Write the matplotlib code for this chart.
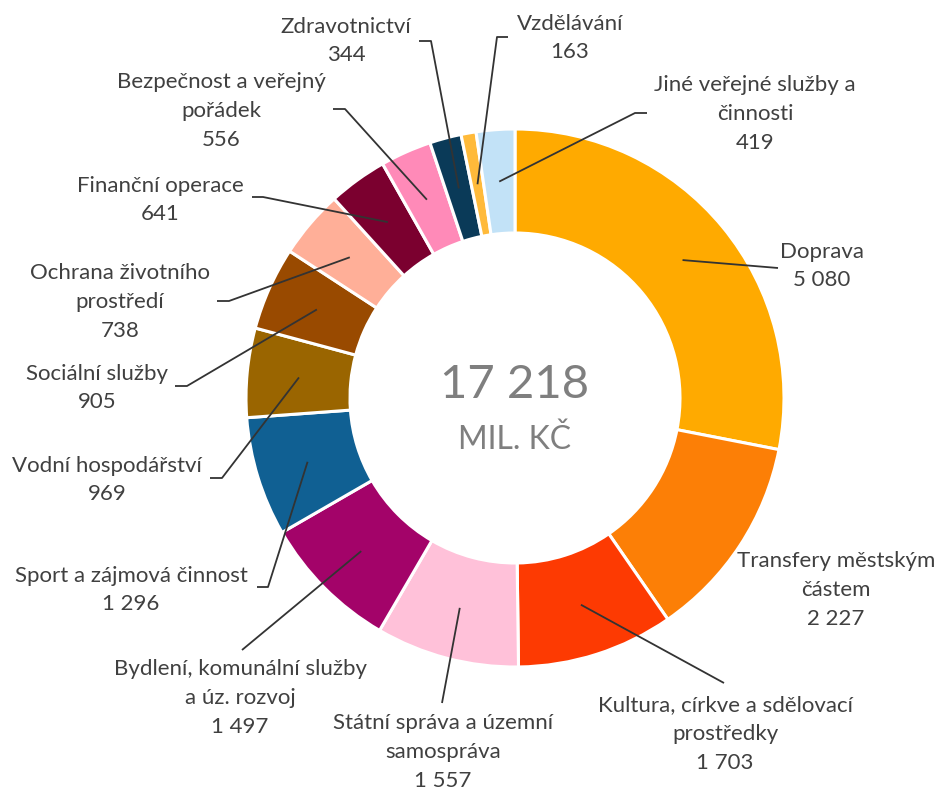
import matplotlib.pyplot as plt
import numpy as np

# data
categories = ['Doprava', 'Transfery městským\nčástem', 'Kultura, církve a sdělovací\nprostředky',
              'Státní správa a územní\nsamospráva', 'Bydlení, komunální služby\na úz. rozvoj',
              'Sport a zájmová činnost', 'Vodní hospodářství', 'Sociální služby',
              'Ochrana životního\nprostředí', 'Finanční operace', 'Bezpečnost a veřejný\npořádek',
              'Zdravotnictví', 'Vzdělávání', 'Jiné veřejné služby a\nčinnosti']
values = [5080, 2227, 1703, 1557, 1497, 1296, 969, 905, 738, 641, 556, 344, 163, 419]
value_labels = ['5 080', '2 227', '1 703', '1 557', '1 497', '1 296', '969', '905',
                '738', '641', '556', '344', '163', '419']
total_label = '17 218'
unit_label = 'MIL. KČ'

colors = ['#FFAA00', '#FC7F06', '#FD3A02', '#FFC1D9', '#A30369', '#106093', '#9A6500',
          '#994A00', '#FFAF98', '#7B002F', '#FF8AB8', '#0A3A58', '#FFBA3A', '#C2E2F7']

# layout in pixel coords (x, y from top)
W, H = 936, 790
cx, cy = 515, 398
r_out, r_in = 269, 165
label_pos = [(822, 266), (836, 590), (725, 734), (443, 752), (240, 698), (131, 590),
             (107, 480), (97, 388), (120, 302), (160, 200), (221, 111), (346, 41),
             (570, 38), (755, 114)]
# line end near the label (elbow segment), None = no leader
leader_end = [[(778, 268)], None, [(724, 683)], [(442, 703)], [(242, 650)],
              [(268, 587), (257, 587)], [(222, 478), (210, 478)], [(187, 386), (175, 386)],
              [(229, 301), (217, 301)], [(263, 197), (252, 197)], [(345, 109), (333, 109)],
              [(431, 41), (419, 41)], [(497, 37), (508, 37)], [(635, 113), (647, 113)]]

plt.rcParams['font.family'] = ['Lato', 'DejaVu Sans']

fig = plt.figure(figsize=(W / 100, H / 100), dpi=100)
ax = fig.add_axes([0, 0, 1, 1])


def fy(y):
    return H - y


wedges, _ = ax.pie(values, colors=colors, startangle=90, counterclock=False,
                   center=(cx, fy(cy)), radius=r_out, frame=True,
                   wedgeprops=dict(width=r_out - r_in, edgecolor='white', linewidth=2.2))
ax.set_xlim(0, W)
ax.set_ylim(0, H)
ax.axis('off')

r_mid = (r_out + r_in) / 2
text_color = '#404040'
for i, w in enumerate(wedges):
    ang = np.deg2rad((w.theta1 + w.theta2) / 2)
    ax_x = cx + r_mid * np.cos(ang)
    ax_y = fy(cy) + r_mid * np.sin(ang)
    if leader_end[i] is not None:
        xs = [ax_x] + [p[0] for p in leader_end[i]]
        ys = [ax_y] + [fy(p[1]) for p in leader_end[i]]
        ax.plot(xs, ys, color='#333333', lw=1.3, solid_capstyle='butt')
    lx, ly = label_pos[i]
    ax.text(lx, fy(ly), categories[i] + '\n' + value_labels[i], ha='center', va='center',
            fontsize=16, color=text_color, linespacing=1.55)

ax.text(cx, fy(385), total_label, ha='center', va='center', fontsize=34,
        color='#7F7F7F')
ax.text(cx, fy(440), unit_label, ha='center', va='center', fontsize=23,
        color='#7F7F7F')

fig.savefig('out.png', dpi=100)
